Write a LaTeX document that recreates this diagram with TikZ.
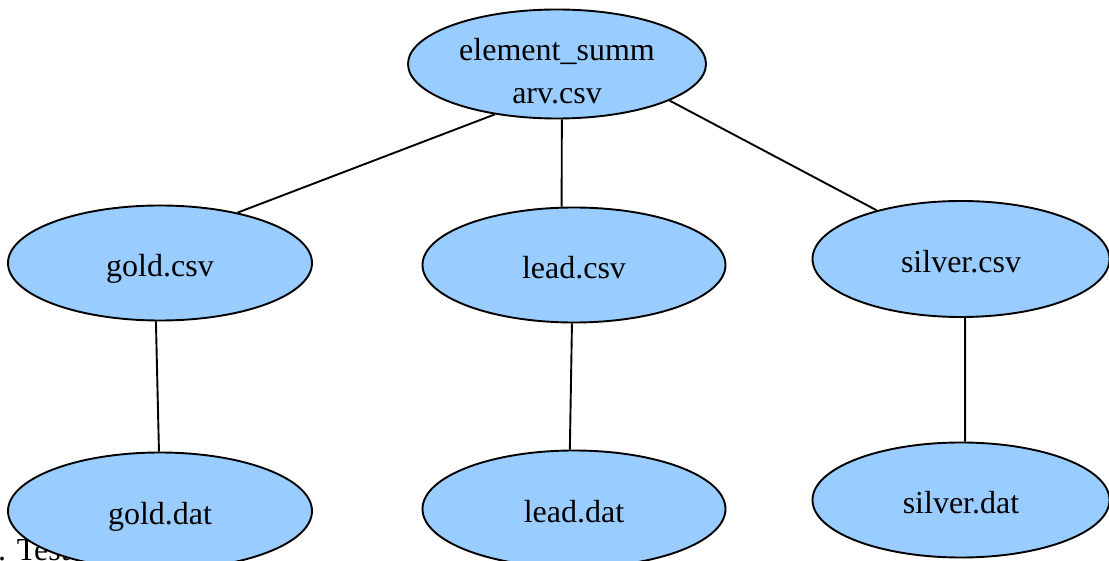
\documentclass[tikz,border=0pt]{standalone}
\usepackage{fontspec}
\setmainfont{Liberation Serif}
\usetikzlibrary{shapes.geometric}
\definecolor{nodefill}{HTML}{99CCFF}
\begin{document}
\begin{tikzpicture}[x=1pt,y=-1pt,
  file/.style={ellipse,draw=black,line width=1.9pt,fill=nodefill,inner sep=0pt,
    font=\fontsize{32}{43}\selectfont,text height=27pt,text depth=0pt},
  link/.style={draw=black,line width=1.9pt}]
\useasboundingbox (0,0) rectangle (1109,561);
\node[anchor=base west,font=\fontsize{32}{38}\selectfont,inner sep=0pt] (note) at (-2,560.5) {. Test};
\node[file,minimum width=298pt,minimum height=109pt,text height=30pt,text depth=36pt]
  (root) at (557,64) {\begin{tabular}[t]{@{}c@{}}element\_summ\\arv.csv\end{tabular}};
\node[file,minimum width=304pt,minimum height=115pt] (goldcsv) at (160,263) {gold.csv};
\node[file,minimum width=303pt,minimum height=115pt] (leadcsv) at (574,265) {lead.csv};
\node[file,minimum width=297pt,minimum height=116pt] (silvercsv) at (961,259) {silver.csv};
\node[file,minimum width=304pt,minimum height=117pt] (golddat) at (160,511) {gold.dat};
\node[file,minimum width=303pt,minimum height=117pt] (leaddat) at (574,509) {lead.dat};
\node[file,minimum width=297pt,minimum height=115pt] (silverdat) at (961,500) {silver.dat};
\draw[link] (root.219) -- (goldcsv.33);
\draw[link] (root.275) -- (leadcsv.102);
\draw[link] (root.342) -- (silvercsv.150);
\draw[link] (goldcsv.266) -- (golddat.91);
\draw[link] (leadcsv.268) -- (leaddat.94);
\draw[link] (silvercsv.274) -- (silverdat.86);
\end{tikzpicture}
\end{document}
